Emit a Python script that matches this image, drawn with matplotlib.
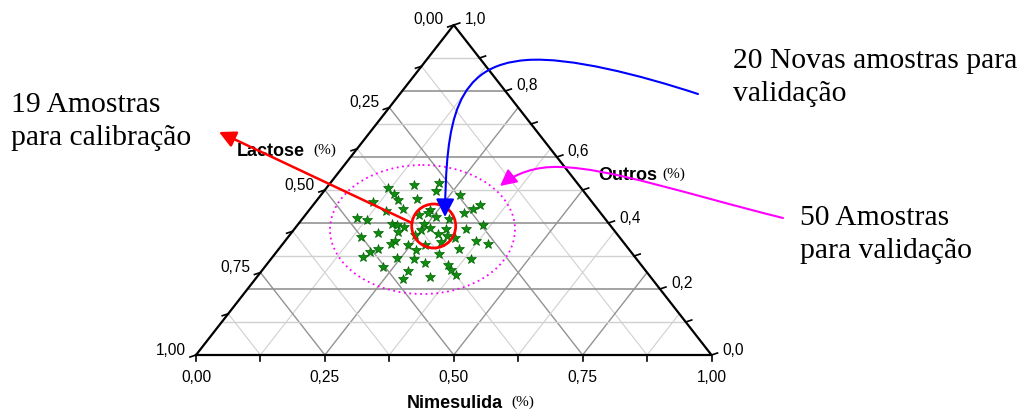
import matplotlib
matplotlib.use("Agg")
import matplotlib.pyplot as plt
import numpy as np
from matplotlib.patches import Ellipse, Circle, FancyArrowPatch
from matplotlib.path import Path

# composição das amostras (frações); lactose = resto
nimesulida = [0.211, 0.217, 0.165, 0.120, 0.192, 0.140, 0.158, 0.112, 0.270, 0.323,
              0.316, 0.305, 0.181, 0.152, 0.105, 0.127, 0.234, 0.236, 0.222, 0.256,
              0.285, 0.182, 0.193, 0.209, 0.243, 0.261, 0.247, 0.293, 0.332, 0.360,
              0.168, 0.206, 0.243, 0.286, 0.307, 0.325, 0.141, 0.213, 0.210, 0.245,
              0.277, 0.304, 0.370, 0.397, 0.193, 0.181, 0.174, 0.268, 0.318, 0.349,
              0.243, 0.278, 0.389, 0.305, 0.230, 0.353, 0.367, 0.383, 0.283, 0.287, 0.336]
outros = [0.520, 0.498, 0.514, 0.505, 0.474, 0.487, 0.469, 0.464, 0.486, 0.454,
          0.442, 0.431, 0.443, 0.435, 0.415, 0.409, 0.439, 0.429, 0.423, 0.418,
          0.412, 0.397, 0.394, 0.388, 0.398, 0.384, 0.379, 0.383, 0.382, 0.393,
          0.370, 0.372, 0.364, 0.367, 0.361, 0.355, 0.357, 0.346, 0.337, 0.333,
          0.333, 0.342, 0.345, 0.337, 0.321, 0.313, 0.298, 0.318, 0.307, 0.321,
          0.295, 0.291, 0.290, 0.278, 0.266, 0.273, 0.257, 0.242, 0.255, 0.229, 0.237]
lactose = [round(1 - n - o, 3) for n, o in zip(nimesulida, outros)]

bottom_ticks = [0.0, 0.25, 0.5, 0.75, 1.0]
bottom_labels = ["0,00", "0,25", "0,50", "0,75", "1,00"]
left_ticks = [0.0, 0.25, 0.5, 0.75, 1.0]
left_labels = ["0,00", "0,25", "0,50", "0,75", "1,00"]
right_ticks = [0.0, 0.2, 0.4, 0.6, 0.8, 1.0]
right_labels = ["0,0", "0,2", "0,4", "0,6", "0,8", "1,0"]

SANS = "Liberation Sans"
SERIF = "Liberation Serif"

W, H = 1024, 415
X0, Y0, SX, SY = 196, 355, 515.5, 330   # triangle base-left pixel + pixel sizes


def tern(n, o):
    """(nimesulida, outros) -> cartesian in the unit triangle."""
    n = np.asarray(n, dtype=float)
    o = np.asarray(o, dtype=float)
    return n + 0.5 * o, o


fig = plt.figure(figsize=(W / 100, H / 100), dpi=100)
ax = fig.add_axes([0, 0, 1, 1])
ax.set_xlim(-X0 / SX, (W - X0) / SX)
ax.set_ylim(-(H - Y0) / SY, Y0 / SY)
ax.axis("off")

px = 1 / SX  # one pixel, in x data units
py = 1 / SY

# grid
major_c, minor_c = "#939393", "#d0d0d0"
for c in np.arange(0.125, 1.0, 0.125):
    col, lw = (major_c, 1.0) if abs(c % 0.25) < 1e-9 else (minor_c, 0.8)
    xa, ya = tern([c, c], [0, 1 - c])
    ax.plot(xa, ya, color=col, lw=lw, zorder=1)
    xb, yb = tern([1 - c, 0], [0, 1 - c])
    ax.plot(xb, yb, color=col, lw=lw, zorder=1)
for o in np.arange(0.1, 0.95, 0.1):
    col, lw = (major_c, 1.2) if round(o * 10) % 2 == 0 else (minor_c, 1.0)
    xh, yh = tern([0, 1 - o], [o, o])
    ax.plot(xh, yh, color=col, lw=lw, zorder=1)

# triangle frame
ax.plot([0, 1, 0.5, 0], [0, 0, 1, 0], color="black", lw=1.6, zorder=3)

# ticks
for t in np.arange(0, 1.0001, 0.125):
    ax.plot([t, t], [0, -6 * py], color="black", lw=1.2, zorder=3)
    x, y = tern(0, 1 - t)
    ax.plot([x, x - 6 * px], [y, y - 2 * py], color="black", lw=1.2, zorder=3)
for o in np.arange(0, 1.0001, 0.1):
    x, y = tern(1 - o, o)
    ax.plot([x, x + 6 * px], [y, y + 2 * py], color="black", lw=1.2, zorder=3)

tick_font = dict(fontsize=11.2, family=SANS)
for t, lab in zip(bottom_ticks, bottom_labels):
    ax.text(t, -22 * py, lab, ha="center", va="center", **tick_font)
for t, lab in zip(left_ticks, left_labels):
    x, y = tern(0, 1 - t)
    ax.text(x - 10 * px, y + 5 * py, lab, ha="right", va="center", **tick_font)
for t, lab in zip(right_ticks, right_labels):
    x, y = tern(1 - t, t)
    ax.text(x + 11 * px, y + 5 * py, lab, ha="left", va="center", **tick_font)

# samples
xs, ys = tern(nimesulida, outros)
ax.plot(xs, ys, ls="none", marker="*", ms=7, color="#108c10", mec="#006400",
        mew=0.5, zorder=4)

# annotation layer in pixel coordinates (y down)
ov = fig.add_axes([0, 0, 1, 1])
ov.set_xlim(0, W)
ov.set_ylim(H, 0)
ov.axis("off")
ov.patch.set_alpha(0)

lab_font = dict(fontsize=13, weight="bold", family=SANS, ha="left", va="center")
pct_font = dict(fontsize=11, family=SERIF, ha="left", va="center")
ov.text(237, 151, "Lactose", **lab_font)
ov.text(313, 150, "(%)", **pct_font)
ov.text(598, 175, "Outros", **lab_font)
ov.text(662, 174, "(%)", **pct_font)
ov.text(407, 403, "Nimesulida", **lab_font)
ov.text(511, 402, "(%)", **pct_font)

ov.add_patch(Ellipse((422.5, 229.5), 185, 129, fill=False, ec="#ff00ff", lw=1.3,
                     ls=(0, (1, 2)), zorder=5))
ov.add_patch(Circle((433.7, 226), 22, fill=False, ec="red", lw=2, zorder=6))

head = "-|>,head_length=0.55,head_width=0.28"
ov.add_patch(FancyArrowPatch((412, 223), (219, 132), arrowstyle=head, mutation_scale=18,
                             color="red", lw=1.8, shrinkA=0, shrinkB=0, zorder=7))

blue_path = Path([(698, 94), (640, 75), (570, 57), (527, 60),
                  (455, 65), (446, 120), (445, 217)],
                 [Path.MOVETO, Path.CURVE4, Path.CURVE4, Path.CURVE4,
                  Path.CURVE4, Path.CURVE4, Path.CURVE4])
ov.add_patch(FancyArrowPatch(path=blue_path, arrowstyle=head, mutation_scale=20,
                             color="blue", lw=1.5, zorder=7))

mag_path = Path([(783, 218), (690, 195), (610, 168), (560, 167),
                 (535, 166), (515, 174), (500, 186)],
                [Path.MOVETO, Path.CURVE4, Path.CURVE4, Path.CURVE4,
                 Path.CURVE4, Path.CURVE4, Path.CURVE4])
ov.add_patch(FancyArrowPatch(path=mag_path, arrowstyle=head, mutation_scale=18,
                             color="#ff00ff", lw=1.5, zorder=7))

big = dict(fontsize=21.3, family=SERIF, ha="left", va="baseline", color="black")
ov.text(733, 68, "20 Novas amostras para", **big)
ov.text(733, 101, "validação", **big)
ov.text(11, 112, "19 Amostras", **big)
ov.text(11, 145, "para calibração", **big)
ov.text(800, 225, "50 Amostras", **big)
ov.text(800, 258, "para validação", **big)

fig.savefig("out.png", dpi=100)
